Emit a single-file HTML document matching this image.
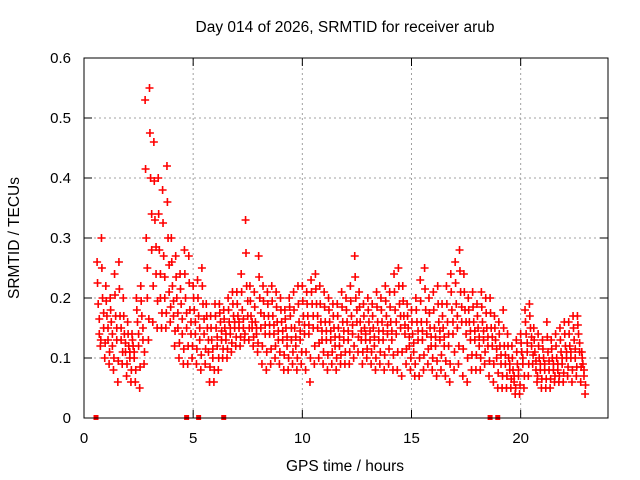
<!DOCTYPE html>
<html><head><meta charset="utf-8"><style>
body{margin:0;background:#fff}
svg{display:block;font-family:"Liberation Sans",sans-serif}
</style></head><body>
<svg id="chart" width="640" height="480">
<rect width="640" height="480" fill="#fff"/>
<text x="345" y="32" font-size="15.5" text-anchor="middle">Day 014 of 2026, SRMTID for receiver arub</text>
<text transform="translate(19,238) rotate(-90)" font-size="15.5" text-anchor="middle">SRMTID / TECUs</text>
<text x="345" y="471" font-size="15.5" text-anchor="middle">GPS time / hours</text>
<g id="grid"></g><g id="marks"></g><g id="axes"></g>
</svg>
<script>
const xTicks=[0,5,10,15,20];
const yTicks=[0,0.1,0.2,0.3,0.4,0.5,0.6];
const yTickLabels=["0","0.1","0.2","0.3","0.4","0.5","0.6"];
const startHour=0.6, stepHour=0.2;
const hiVals=[0.26,0.30,0.22,0.20,0.24,0.26,0.20,0.16,0.14,0.20,0.22,0.53,0.55,0.46,0.40,0.38,0.42,0.30,0.27,0.24,0.28,0.27,0.22,0.23,0.25,0.19,0.17,0.19,0.19,0.18,0.20,0.21,0.21,0.24,0.33,0.22,0.21,0.27,0.22,0.21,0.22,0.21,0.20,0.18,0.20,0.21,0.22,0.22,0.21,0.23,0.24,0.22,0.21,0.20,0.19,0.19,0.21,0.20,0.22,0.27,0.21,0.19,0.20,0.19,0.21,0.20,0.22,0.21,0.24,0.25,0.22,0.19,0.18,0.20,0.23,0.25,0.20,0.21,0.22,0.19,0.22,0.24,0.26,0.28,0.24,0.20,0.21,0.19,0.21,0.20,0.20,0.17,0.16,0.18,0.14,0.12,0.13,0.14,0.18,0.19,0.15,0.14,0.13,0.16,0.13,0.14,0.15,0.16,0.16,0.17,0.17,0.11];
const upperMidVals=[0.19,0.20,0.17,0.16,0.17,0.17,0.14,0.12,0.12,0.16,0.17,0.30,0.40,0.33,0.28,0.27,0.30,0.22,0.20,0.19,0.20,0.18,0.18,0.17,0.19,0.15,0.13,0.15,0.16,0.15,0.16,0.17,0.17,0.18,0.22,0.17,0.16,0.20,0.17,0.17,0.17,0.16,0.16,0.15,0.17,0.15,0.16,0.17,0.17,0.19,0.19,0.16,0.16,0.16,0.15,0.15,0.16,0.16,0.17,0.20,0.16,0.15,0.16,0.15,0.16,0.16,0.17,0.16,0.18,0.19,0.17,0.15,0.14,0.16,0.16,0.18,0.15,0.15,0.16,0.15,0.16,0.18,0.19,0.21,0.18,0.16,0.16,0.15,0.16,0.15,0.15,0.13,0.12,0.12,0.10,0.08,0.09,0.11,0.14,0.15,0.11,0.10,0.10,0.11,0.10,0.10,0.11,0.12,0.12,0.13,0.14,0.09];
const lowerMidVals=[0.14,0.15,0.13,0.12,0.13,0.13,0.11,0.10,0.10,0.12,0.13,0.20,0.28,0.24,0.20,0.20,0.21,0.17,0.15,0.14,0.15,0.14,0.14,0.13,0.14,0.11,0.10,0.12,0.13,0.13,0.14,0.15,0.15,0.15,0.17,0.15,0.14,0.15,0.14,0.14,0.14,0.13,0.13,0.12,0.13,0.12,0.13,0.14,0.14,0.15,0.15,0.13,0.13,0.13,0.12,0.12,0.13,0.13,0.14,0.16,0.13,0.13,0.13,0.12,0.13,0.13,0.14,0.13,0.14,0.15,0.14,0.12,0.11,0.13,0.13,0.14,0.12,0.12,0.13,0.12,0.12,0.14,0.15,0.16,0.14,0.13,0.13,0.12,0.13,0.12,0.12,0.10,0.09,0.09,0.08,0.06,0.07,0.09,0.11,0.12,0.08,0.08,0.08,0.08,0.08,0.08,0.09,0.10,0.10,0.10,0.11,0.07];
const loVals=[0.12,0.10,0.09,0.08,0.06,0.09,0.07,0.06,0.06,0.05,0.09,0.13,0.16,0.15,0.15,0.15,0.16,0.12,0.10,0.09,0.09,0.10,0.09,0.08,0.09,0.06,0.06,0.08,0.10,0.10,0.11,0.12,0.12,0.13,0.13,0.12,0.11,0.09,0.08,0.09,0.10,0.09,0.08,0.08,0.09,0.08,0.09,0.08,0.06,0.09,0.10,0.09,0.08,0.09,0.08,0.09,0.09,0.09,0.10,0.11,0.09,0.10,0.09,0.08,0.09,0.08,0.09,0.08,0.08,0.07,0.09,0.08,0.07,0.07,0.08,0.09,0.08,0.07,0.08,0.07,0.06,0.08,0.09,0.07,0.06,0.08,0.08,0.08,0.09,0.07,0.06,0.05,0.05,0.05,0.05,0.04,0.04,0.05,0.07,0.09,0.06,0.05,0.05,0.05,0.06,0.06,0.06,0.07,0.06,0.07,0.06,0.04];
const zeroHours=[0.55,4.7,5.25,6.4,18.6,18.95];
const NS='http://www.w3.org/2000/svg';
const L=84,R=608,T=58,B=418;
const xs=h=>L+(R-L)*h/24;
const ys=v=>B-(B-T)*v/0.6;
function mk(tag,attrs,parent){const e=document.createElementNS(NS,tag);for(const k in attrs)e.setAttribute(k,attrs[k]);parent.appendChild(e);return e;}
const grid=document.getElementById('grid'),marks=document.getElementById('marks'),axes=document.getElementById('axes');
yTicks.forEach((v,i)=>{
  const y=ys(v);
  if(i>0&&i<yTicks.length-1){const g=mk('line',{x1:L,x2:R,y1:y,y2:y,stroke:'#a0a0a0','stroke-dasharray':'2,3'},grid);
  
  }
  mk('line',{x1:L,x2:L+8,y1:y,y2:y,stroke:'#000'},axes);
  mk('line',{x1:R,x2:R-8,y1:y,y2:y,stroke:'#000'},axes);
  const t=mk('text',{x:71,y:y+5,'font-size':15,'text-anchor':'end'},axes);t.textContent=yTickLabels[i];
  
  
});
xTicks.forEach(h=>{
  const x=xs(h);
  if(h>0){const g=mk('line',{x1:x,x2:x,y1:T,y2:B,stroke:'#a0a0a0','stroke-dasharray':'2,3'},grid);
  
  }
  mk('line',{x1:x,x2:x,y1:B,y2:B-8,stroke:'#000'},axes);
  mk('line',{x1:x,x2:x,y1:T,y2:T+8,stroke:'#000'},axes);
  const t=mk('text',{x:x,y:443,'font-size':15,'text-anchor':'middle'},axes);t.textContent=String(h);
  
  
});
const frame=mk('rect',{x:L,y:T,width:R-L,height:B-T,fill:'none',stroke:'#000'},axes);


function plus(x,y,col){
  const p=mk('path',{d:`M${x-4},${y}h8M${x},${y-4}v8`,stroke:col,'stroke-width':1.6,fill:'none'},marks);
  
  
}
const series=[hiVals,upperMidVals,lowerMidVals,loVals];
hiVals.forEach((_,i)=>{
  const h=startHour+stepHour*i;
  series.forEach((arr,k)=>{plus(xs(h+0.05*k),ys(arr[i]),'#ff0000');});
  plus(xs(h+0.1),ys((upperMidVals[i]+lowerMidVals[i])/2),'#ff0000');
  plus(xs(h+0.02),ys((hiVals[i]+upperMidVals[i])/2),'#ff0000');
  plus(xs(h+0.17),ys((loVals[i]+lowerMidVals[i])/2),'#ff0000');
});
zeroHours.forEach(h=>{
  const r=mk('rect',{x:xs(h)-2.5,y:B-3,width:5,height:5,fill:'#ff0000'},marks);
  
  
});
</script>
</body></html>
